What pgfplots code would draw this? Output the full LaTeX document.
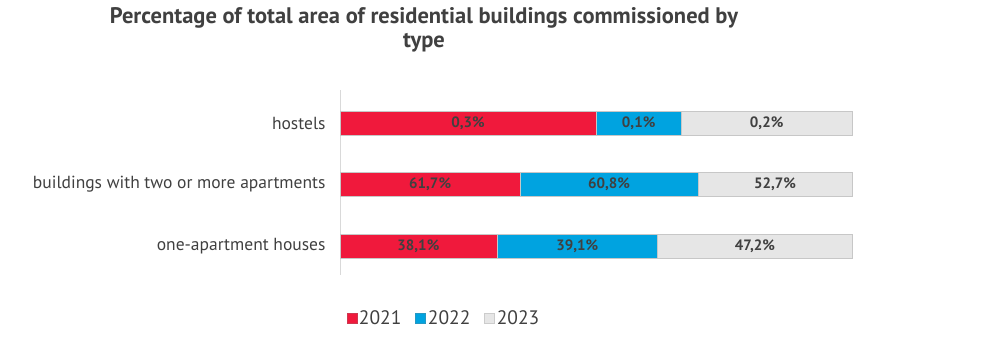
\documentclass[border=0pt]{standalone}
\usepackage{pgfplots}
\usepackage{pgfplotstable}
\pgfplotsset{compat=1.18}
\usepackage{fontspec}
\setmainfont{PT Sans}
\definecolor{c21}{HTML}{F0193C}
\definecolor{c22}{HTML}{00A3E0}
\definecolor{c23}{HTML}{E6E6E6}
\definecolor{txt}{HTML}{404040}
\pgfplotstableread{
cat a b c
0 38.1 39.1 47.2
1 61.7 60.8 52.7
2 0.3 0.1 0.2
}\data
\pgfplotstablecreatecol[create col/expr={100*\thisrow{a}/(\thisrow{a}+\thisrow{b}+\thisrow{c})}]{ca}\data
\pgfplotstablecreatecol[create col/expr={100*(\thisrow{a}+\thisrow{b})/(\thisrow{a}+\thisrow{b}+\thisrow{c})}]{cb}\data
\pgfplotstablecreatecol[create col/expr={100}]{cc}\data
\pgfplotstablecreatecol[create col/expr={\thisrow{ca}/2}]{ma}\data
\pgfplotstablecreatecol[create col/expr={(\thisrow{ca}+\thisrow{cb})/2}]{mb}\data
\pgfplotstablecreatecol[create col/expr={(\thisrow{cb}+100)/2}]{mc}\data
\begin{document}
\begin{tikzpicture}[x=1pt,y=1pt]
\useasboundingbox (0,0) rectangle (993,355);
\node[align=center, font=\fontsize{22.5}{24}\selectfont\bfseries, text=txt] at (424,325) {Percentage of total area of residential buildings commissioned by\\type};
\begin{axis}[
  at={(340pt,80pt)}, anchor=south west,
  scale only axis, width=512pt, height=185pt,
  xmin=0, xmax=100, ymin=-0.47, ymax=2.54,
  axis line style={draw=none},
  xtick=\empty, ytick={0,1,2},
  yticklabels={one-apartment houses, buildings with two or more apartments, hostels},
  major tick length=0pt,
  yticklabel style={font=\fontsize{17.5}{20}\selectfont, text=txt, xshift=-11pt},
  /pgf/number format/assume math mode=true,
  clip=false,
  legend columns=3,
  legend entries={2021,2022,2023},
  legend style={at={(0.203,-0.232)}, anchor=center, draw=none, fill=none,
    font=\fontsize{19.5}{22}\selectfont, text=txt,
    /tikz/every even column/.append style={column sep=12pt}},
  legend image code/.code={\draw[#1] (0pt,-5pt) rectangle (10pt,5pt);},
]
\draw[black!15, line width=0.8pt] (rel axis cs:0,0) -- (rel axis cs:0,1);
\addlegendimage{fill=c21, draw=c21!70!gray}
\addlegendimage{fill=c22, draw=c22!70!gray}
\addlegendimage{fill=c23, draw=black!20}
\addplot[xbar, bar width=24pt, bar shift=0pt, fill=c23, draw=black!22, line width=0.6pt, forget plot] table[x=cc, y=cat]{\data};
\addplot[xbar, bar width=24pt, bar shift=0pt, fill=c22, draw=black!22, line width=0.6pt, forget plot] table[x=cb, y=cat]{\data};
\addplot[xbar, bar width=24pt, bar shift=0pt, fill=c21, draw=black!22, line width=0.6pt, forget plot] table[x=ca, y=cat]{\data};
\pgfplotsset{lbl/.style={draw=none, mark=none, forget plot, nodes near coords={\pgfmathprintnumber[use comma,fixed,fixed zerofill,precision=1]{\pgfplotspointmeta}\%}, point meta=explicit, every node near coord/.append style={anchor=center, font=\fontsize{15}{17}\selectfont\bfseries, text=txt}}}
\addplot[lbl] table[x=ma, y=cat, meta=a]{\data};
\addplot[lbl] table[x=mb, y=cat, meta=b]{\data};
\addplot[lbl] table[x=mc, y=cat, meta=c]{\data};
\end{axis}
\end{tikzpicture}
\end{document}
